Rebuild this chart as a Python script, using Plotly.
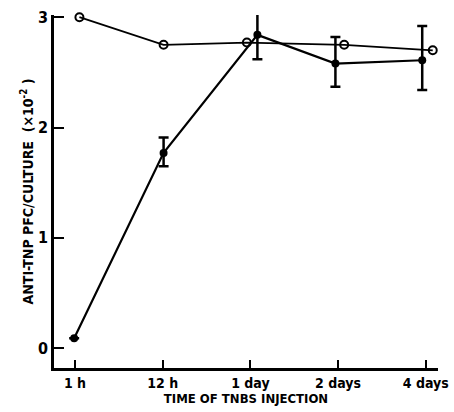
import plotly.graph_objects as go

categories = ["1 h", "12 h", "1 day", "2 days", "4 days"]
cat_pos = [0, 1, 2, 3, 4]

# open circles (control); small horizontal offsets from category position as drawn
open_off = [0.05, 0.01, -0.04, 0.07, 0.08]
open_y = [3.00, 2.75, 2.77, 2.75, 2.70]

# filled circles with error bars
filled_off = [-0.01, 0.01, 0.08, -0.03, -0.04]
filled_y = [0.09, 1.77, 2.84, 2.58, 2.61]
filled_err_plus = [0, 0.14, 0.21, 0.24, 0.31]
filled_err_minus = [0, 0.12, 0.22, 0.21, 0.27]

open_x = [c + o for c, o in zip(cat_pos, open_off)]
filled_x = [c + o for c, o in zip(cat_pos, filled_off)]

FONT = "DejaVu Sans Condensed, Liberation Sans Narrow, sans-serif"

fig = go.Figure()
fig.add_trace(go.Scatter(
    x=open_x, y=open_y, mode="lines+markers",
    line=dict(color="black", width=1.8),
    marker=dict(symbol="circle-open", size=8, color="black", line=dict(width=2)),
    cliponaxis=False, showlegend=False,
))
fig.add_trace(go.Scatter(
    x=filled_x, y=filled_y, mode="lines+markers",
    line=dict(color="black", width=2.2),
    marker=dict(symbol="circle", size=8, color="black"),
    error_y=dict(type="data", array=filled_err_plus, arrayminus=filled_err_minus,
                 color="black", thickness=2.5, width=5),
    cliponaxis=False, showlegend=False,
))

fig.update_layout(
    width=454, height=412,
    margin=dict(l=54, r=16, t=15, b=44),
    paper_bgcolor="white", plot_bgcolor="white",
    font=dict(family=FONT, color="black", size=14, weight="bold"),
    xaxis=dict(
        range=[-0.24, 4.14], tickmode="array", tickvals=cat_pos, ticktext=categories,
        showline=True, linecolor="black", linewidth=2.5, ticks="inside", ticklen=8,
        tickwidth=2, tickcolor="black", showgrid=False, zeroline=False,
        automargin=False,
        tickfont=dict(family=FONT, size=14, weight="bold"),
        title=dict(text="TIME OF TNBS INJECTION", standoff=4,
                   font=dict(family=FONT, size=13, weight="bold")),
    ),
    yaxis=dict(
        range=[-0.18, 3.02], tickmode="array", tickvals=[0, 1, 2, 3],
        showline=True, linecolor="black", linewidth=2.5, ticks="inside", ticklen=10,
        tickwidth=2, tickcolor="black", showgrid=False, zeroline=False,
        automargin=False,
        tickfont=dict(family=FONT, size=16, weight="bold"),
        title=dict(text="ANTI-TNP PFC/CULTURE  (×10<sup>-2</sup> )", standoff=2,
                   font=dict(family=FONT, size=14, weight="bold")),
    ),
)

fig.write_html("out.html", config={"displayModeBar": False},
               post_script="document.body.style.margin='0';document.body.style.overflow='hidden';")
